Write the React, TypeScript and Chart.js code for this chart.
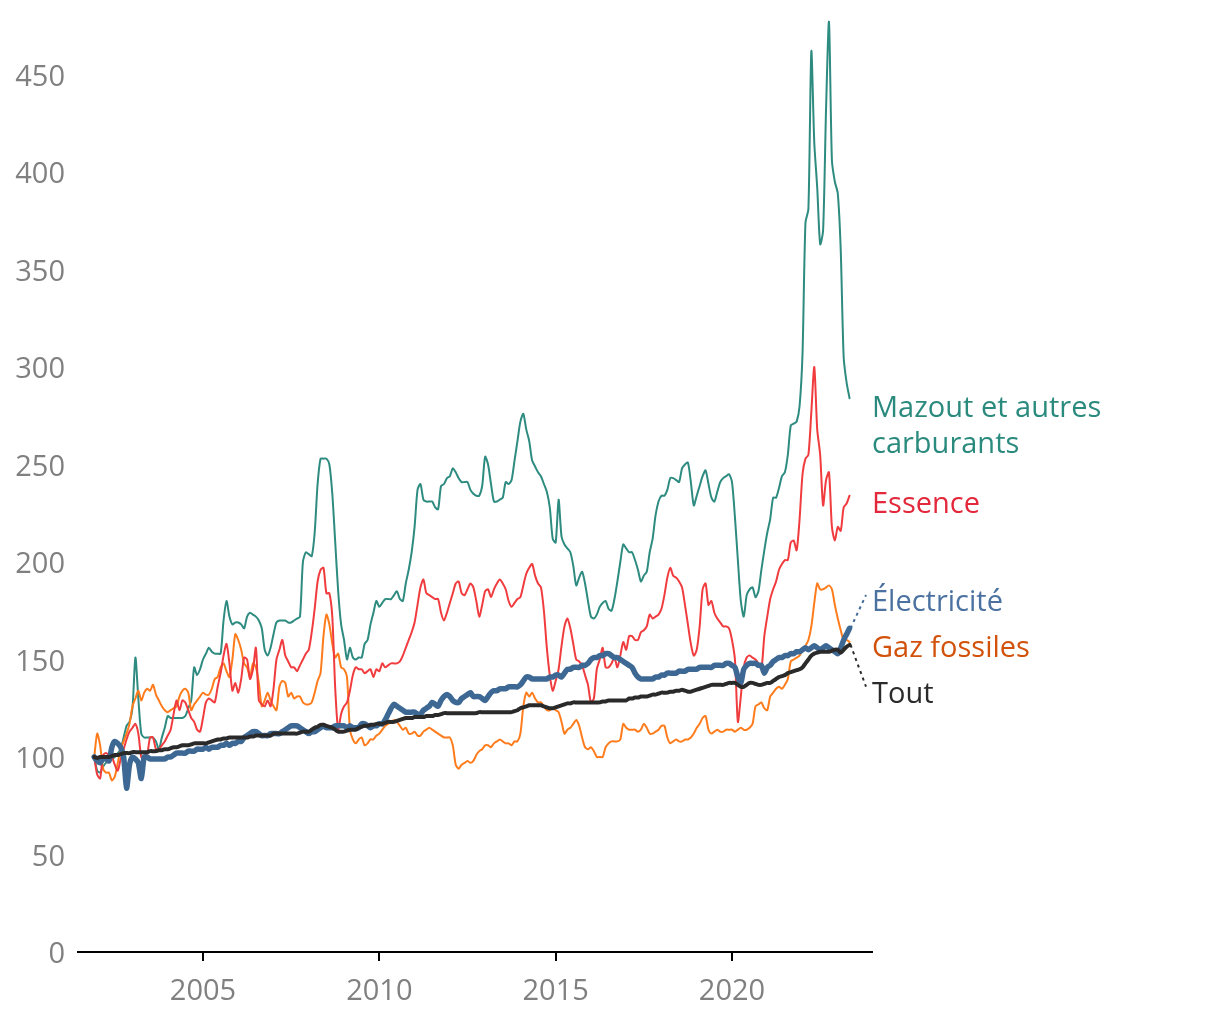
import React, { useEffect, useRef } from "react";
import { Chart, registerables } from "chart.js";

Chart.register(...registerables);

// Monthly index, December 2001 = 100, first value is Dec 2001
const START_YEAR = 2001;
const START_MONTH = 12;

const X_TICKS = [2005, 2010, 2015, 2020];
const Y_TICKS = [0, 50, 100, 150, 200, 250, 300, 350, 400, 450];

const MAZOUT = [
  100, 93, 92, 95, 97, 98, 99, 100, 102, 104, 110, 116,
  118, 125, 151, 130, 112, 110, 110, 110, 110, 108, 104, 110,
  115, 121, 120, 120, 120, 120, 120, 121, 125, 129, 146, 142,
  145, 150, 153, 156, 154, 153, 153, 153, 170, 180, 172, 168,
  169, 169, 168, 166, 172, 174, 173, 172, 170, 166, 155, 152,
  156, 163, 169, 170, 170, 170, 169, 169, 170, 171, 172, 200,
  205, 204, 203, 215, 240, 253, 253, 253, 250, 235, 210, 185,
  168, 160, 150, 156, 151, 150, 151, 151, 158, 160, 168, 174,
  180, 177, 179, 181, 181, 181, 183, 185, 181, 180, 189, 196,
  205, 218, 237, 240, 232, 231, 231, 231, 228, 227, 239, 240,
  243, 244, 248, 246, 243, 241, 241, 241, 237, 235, 234, 234,
  239, 254, 250, 240, 231, 231, 232, 233, 241, 240, 242, 252,
  262, 272, 276, 268, 262, 252, 249, 246, 244, 240, 236, 228,
  212, 210, 232, 213, 209, 207, 205, 198, 188, 192, 195, 189,
  180, 172, 171, 173, 177, 179, 180, 176, 175, 181, 190, 200,
  209, 207, 205, 205, 201, 196, 190, 193, 195, 205, 212, 224,
  231, 234, 234, 237, 243, 243, 242, 241, 248, 250, 251, 241,
  229, 234, 239, 244, 247, 240, 233, 231, 236, 241, 243, 244,
  245, 241, 223, 201, 180, 172, 183, 186, 187, 182, 185, 196,
  206, 215, 222, 233, 233, 238, 244, 246, 255, 270, 271, 272,
  280, 307, 374, 381, 462, 415, 392, 363, 370, 432, 477, 406,
  395, 389, 360, 305, 292, 284,
];

const ESSENCE = [
  100, 91, 89, 101, 102, 101, 100, 96, 93, 99, 104, 109,
  113, 115, 117, 112, 100, 99, 101, 110, 110, 104, 104, 106,
  108, 111, 114, 122, 129, 124, 129, 128, 124, 120, 118, 114,
  113, 120, 128, 130, 129, 128, 136, 143, 152, 158, 148, 134,
  138, 133, 140, 151, 150, 140, 145, 156, 129, 127, 126, 129,
  126, 135, 150, 155, 160, 152, 149, 146, 146, 144, 147, 150,
  153, 155, 164, 176, 190, 196, 197, 184, 184, 172, 135, 114,
  122, 126, 128, 134, 142, 146, 145, 145, 143, 144, 145, 141,
  145, 144, 148, 146, 147, 148, 148, 148, 149, 152, 156, 160,
  164, 169, 178, 187, 191, 184, 183, 182, 181, 181, 174, 170,
  174, 179, 184, 189, 190, 184, 183, 186, 189, 187, 180, 172,
  178, 185, 186, 182, 186, 189, 191, 189, 186, 180, 177, 179,
  181, 182, 188, 194, 197, 199, 193, 189, 187, 175, 156, 142,
  134, 139, 145, 157, 167, 171, 166, 158, 150, 149, 147, 142,
  137, 128, 130, 145, 150, 156, 146, 146, 148, 151, 146, 152,
  159, 155, 162, 162, 160, 160, 164, 165, 167, 173, 171, 172,
  173, 176, 183, 192, 197, 193, 192, 190, 187, 178, 168, 158,
  152, 155, 167, 186, 189, 178, 180, 174, 171, 169, 167, 167,
  166, 160, 150, 118, 131, 146, 151, 152, 151, 150, 148, 145,
  162, 172, 181, 186, 190, 196, 199, 201, 201, 210, 211, 206,
  222, 245, 253, 255, 277, 300, 268, 255, 229, 242, 246, 218,
  211, 218, 216, 228, 230, 234,
];

const GAZ = [
  100, 112, 106, 94, 92, 92, 88, 90, 97, 104, 108, 112,
  117, 126, 130, 134, 129, 133, 135, 134, 137, 132, 129, 126,
  124, 123, 124, 125, 126, 131, 134, 135, 133, 124, 127, 129,
  131, 133, 132, 132, 135, 140, 141, 146, 148, 144, 141, 150,
  163, 160, 155, 148, 146, 141, 148, 146, 138, 126, 129, 133,
  129, 126, 124, 136, 139, 138, 131, 133, 130, 131, 131, 128,
  127, 127, 128, 133, 139, 143, 162, 173, 168, 158, 151, 153,
  146, 145, 141, 114, 109, 107, 109, 110, 106, 107, 109, 109,
  111, 112, 114, 116, 117, 118, 119, 118, 116, 114, 115, 112,
  112, 113, 111, 111, 113, 114, 115, 114, 113, 112, 111, 110,
  110, 110, 106, 96, 94, 96, 97, 98, 97, 98, 101, 103,
  104, 106, 106, 105, 107, 108, 109, 108, 107, 107, 106, 108,
  108, 112, 126, 133, 131, 133, 130, 128, 128, 126, 124, 124,
  125, 124, 123, 118, 112, 114, 115, 117, 119, 116, 110, 105,
  104, 105, 103, 100, 100, 100, 105, 107, 108, 108, 108, 109,
  117, 115, 114, 114, 114, 113, 114, 117, 115, 112, 112, 113,
  114, 116, 116, 110, 107, 108, 109, 108, 108, 109, 109, 110,
  112, 115, 117, 120, 121, 114, 112, 113, 114, 113, 113, 114,
  114, 114, 113, 114, 115, 114, 114, 115, 117, 126, 127, 128,
  125, 124, 131, 133, 135, 136, 135, 137, 140, 149, 150, 151,
  152, 155, 157, 160, 167, 179, 189, 186, 186, 187, 188, 186,
  178, 171, 165, 160, 160, 159,
];

const ELECTRICITE = [
  100, 98, 97, 99, 99, 98, 105, 108, 107, 105, 100, 84,
  96, 100, 99, 97, 89, 100, 100, 99, 99, 99, 99, 99,
  99, 100, 100, 101, 102, 102, 102, 102, 103, 103, 103, 104,
  104, 104, 105, 104, 105, 105, 105, 106, 106, 107, 106, 107,
  107, 108, 108, 110, 111, 112, 113, 113, 112, 111, 111, 111,
  112, 112, 112, 112, 113, 114, 115, 116, 116, 116, 115, 114,
  113, 112, 113, 113, 114, 115, 116, 115, 115, 115, 116, 116,
  116, 116, 115, 116, 115, 115, 115, 117, 117, 116, 115, 116,
  116, 117, 117, 119, 122, 125, 127, 126, 125, 124, 123, 123,
  123, 123, 122, 122, 124, 125, 126, 128, 127, 126, 129, 131,
  132, 131, 129, 128, 128, 130, 131, 132, 133, 131, 131, 131,
  130, 129, 131, 133, 134, 134, 135, 135, 135, 136, 136, 136,
  136, 137, 139, 141, 141, 140, 140, 140, 140, 140, 140, 141,
  141, 142, 142, 141, 143, 145, 145, 146, 146, 146, 147, 147,
  148, 150, 151, 151, 152, 152, 153, 153, 152, 151, 151, 150,
  149, 148, 147, 146, 143, 141, 140, 140, 140, 140, 140, 141,
  141, 142, 142, 143, 143, 143, 143, 144, 144, 144, 145, 145,
  145, 145, 146, 146, 146, 146, 146, 147, 147, 147, 147, 148,
  148, 147, 146, 141, 138, 145, 147, 148, 148, 148, 147, 147,
  143, 146, 147, 149, 150, 151, 151, 152, 152, 153, 153, 154,
  154, 155, 156, 155, 156, 157, 156, 155, 156, 157, 156, 155,
  154, 153, 156, 160, 163, 166,
];

const TOUT = [
  100, 99.5, 100, 100, 100, 100, 100.5, 101, 101, 101.5, 102, 102,
  102, 102.5, 102.5, 102.5, 102.5, 102.5, 102.5, 103, 103, 103, 103.5, 103.5,
  104, 104, 104.5, 105, 105, 105.5, 106, 106, 106, 106.5, 107, 107,
  107, 107, 107, 107.5, 108, 108.5, 109, 109, 109.5, 109.5, 110, 110,
  110, 110, 110, 110, 110, 110.5, 110.5, 111, 111, 111, 111, 111,
  111, 112, 112, 112, 112, 112, 112, 112, 112, 112, 112.5, 113,
  113, 113, 114, 115, 115.5, 116.5, 116.5, 116, 115.5, 115, 114, 113,
  113, 113, 113.5, 114, 114, 114, 115, 115.5, 116, 116, 116.5, 116.5,
  117, 117, 117, 117.5, 118, 118, 118, 118.5, 119, 119.5, 120, 120,
  120, 120.5, 120.5, 120.5, 120.5, 121, 121, 121, 121.5, 121.5, 122, 122.5,
  122.5, 122.5, 122.5, 122.5, 122.5, 122.5, 122.5, 122.5, 122.5, 122.5, 122.5, 123,
  123, 123, 123, 123, 123, 123, 123, 123, 123, 123, 123, 123.5,
  124, 125, 125.5, 126, 126.5, 126.5, 126.5, 126.5, 126.5, 126, 125.5, 125,
  125, 125.5, 126, 126.5, 127, 127.5, 127.5, 128, 128, 128, 128, 128,
  128, 128, 128, 128, 128, 128.5, 128.5, 129, 129, 129, 129, 129,
  129, 129, 130, 130, 130.5, 130.5, 131, 131, 131, 131.5, 132, 132,
  132.5, 133, 133, 133, 133.5, 133.5, 134, 134, 134.5, 134, 133.5, 133.5,
  134, 134.5, 135, 135.5, 136, 136.5, 137, 137, 137, 137, 137, 137.5,
  138, 138, 138, 137, 136, 136, 137, 138, 138, 137.5, 137, 137,
  137.5, 138, 138, 139, 140, 141, 141.5, 142, 143, 143.5, 144, 144.5,
  145, 146, 148, 150, 152, 153, 153.5, 154, 154, 154, 154, 154.5,
  155, 155, 153.5, 155, 156.5, 157.5,
];

const FONT = "'Open Sans', 'Noto Sans', sans-serif";
const FONT_SIZE = 29;

type EndLabel = {
  lines: string[];
  value: number;
  color: string;
  connect?: number; // dataset index to connect from
  connectColor?: string;
};

const END_LABELS: EndLabel[] = [
  { lines: ["Mazout et autres", "carburants"], value: 280, color: "#2b8a7e" },
  { lines: ["Essence"], value: 231, color: "#e3283b" },
  { lines: ["Électricité"], value: 180.5, color: "#4a71a0", connect: 3, connectColor: "#3f6a96" },
  { lines: ["Gaz fossiles"], value: 157, color: "#d2520c" },
  { lines: ["Tout"], value: 133.5, color: "#2b2b2b", connect: 4, connectColor: "#2b2b2b" },
];

const endLabelPlugin = {
  id: "endLabels",
  afterDraw(chart: any) {
    const { ctx, chartArea, scales } = chart;
    const y = scales.y;
    ctx.save();
    ctx.font = `${FONT_SIZE}px ${FONT}`;
    ctx.textBaseline = "middle";
    ctx.textAlign = "left";
    const lx = chartArea.right;
    END_LABELS.forEach((lab) => {
      const ly = y.getPixelForValue(lab.value);
      ctx.fillStyle = lab.color;
      lab.lines.forEach((t, k) => ctx.fillText(t, lx, ly + 3 + k * 36));
      if (lab.connect !== undefined) {
        const meta = chart.getDatasetMeta(lab.connect);
        const pts = meta.data;
        const last = pts[pts.length - 1];
        ctx.beginPath();
        ctx.setLineDash([3, 4]);
        ctx.lineWidth = 2;
        ctx.strokeStyle = lab.connectColor;
        ctx.moveTo(last.x + 1, last.y);
        ctx.lineTo(lx - 6, ly - 5);
        ctx.stroke();
        ctx.setLineDash([]);
      }
    });
    ctx.restore();
  },
};

export default function App() {
  const ref = useRef<HTMLCanvasElement | null>(null);

  useEffect(() => {
    if (!ref.current) return;
    const xs = MAZOUT.map((_, i) => START_YEAR + (START_MONTH - 1) / 12 + i / 12);
    const mk = (arr: number[]) => arr.map((v, i) => ({ x: xs[i], y: v }));

    const chart = new Chart(ref.current, {
      type: "line",
      data: {
        datasets: [
          { label: "Mazout et autres carburants", data: mk(MAZOUT), borderColor: "#2e8b80", borderWidth: 2, order: 4 },
          { label: "Essence", data: mk(ESSENCE), borderColor: "#f03c3e", borderWidth: 2, order: 2 },
          { label: "Gaz fossiles", data: mk(GAZ), borderColor: "#ff7c1c", borderWidth: 2, order: 3 },
          { label: "Électricité", data: mk(ELECTRICITE), borderColor: "#3d6894", borderWidth: 5.5, order: 1 },
          { label: "Tout", data: mk(TOUT), borderColor: "#2a2a2a", borderWidth: 4, order: 0 },
        ],
      },
      options: {
        animation: false,
        responsive: false,
        devicePixelRatio: 1,
        events: [],
        elements: {
          point: { radius: 0 },
          line: { tension: 0.25, borderJoinStyle: "round", borderCapStyle: "round" },
        },
        layout: { padding: { top: 16, right: 348, bottom: 0, left: 0 } },
        plugins: { legend: { display: false }, tooltip: { enabled: false } },
        scales: {
          x: {
            type: "linear",
            min: 2001.456,
            max: 2023.97,
            afterBuildTicks: (s: any) => {
              s.ticks = X_TICKS.map((v) => ({ value: v }));
            },
            afterFit: (s: any) => {
              s.height = 68;
              s.paddingLeft = 0;
              s.paddingRight = 0;
            },
            ticks: {
              color: "#808080",
              font: { family: FONT, size: FONT_SIZE },
              padding: 13,
              maxRotation: 0,
              autoSkip: false,
              callback: (v: any) => String(v),
            },
            grid: {
              display: true,
              drawOnChartArea: false,
              drawTicks: true,
              tickLength: 9,
              color: "#000",
              lineWidth: 2,
            },
            border: { display: true, color: "#000", width: 2 },
          },
          y: {
            type: "linear",
            min: 0,
            max: 480,
            afterBuildTicks: (s: any) => {
              s.ticks = Y_TICKS.map((v) => ({ value: v }));
            },
            afterFit: (s: any) => {
              s.width = 78;
              s.paddingTop = 0;
              s.paddingBottom = 0;
            },
            ticks: {
              color: "#808080",
              font: { family: FONT, size: FONT_SIZE },
              padding: 13,
              labelOffset: 3,
              autoSkip: false,
            },
            grid: { display: false, drawTicks: false },
            border: { display: false },
          },
        },
      },
      plugins: [endLabelPlugin],
    });
    return () => chart.destroy();
  }, []);

  return (
    <div style={{ position: "absolute", left: 0, top: 0, width: 1220, height: 1020 }}>
      <canvas ref={ref} width={1220} height={1020} style={{ width: 1220, height: 1020 }} />
    </div>
  );
}
